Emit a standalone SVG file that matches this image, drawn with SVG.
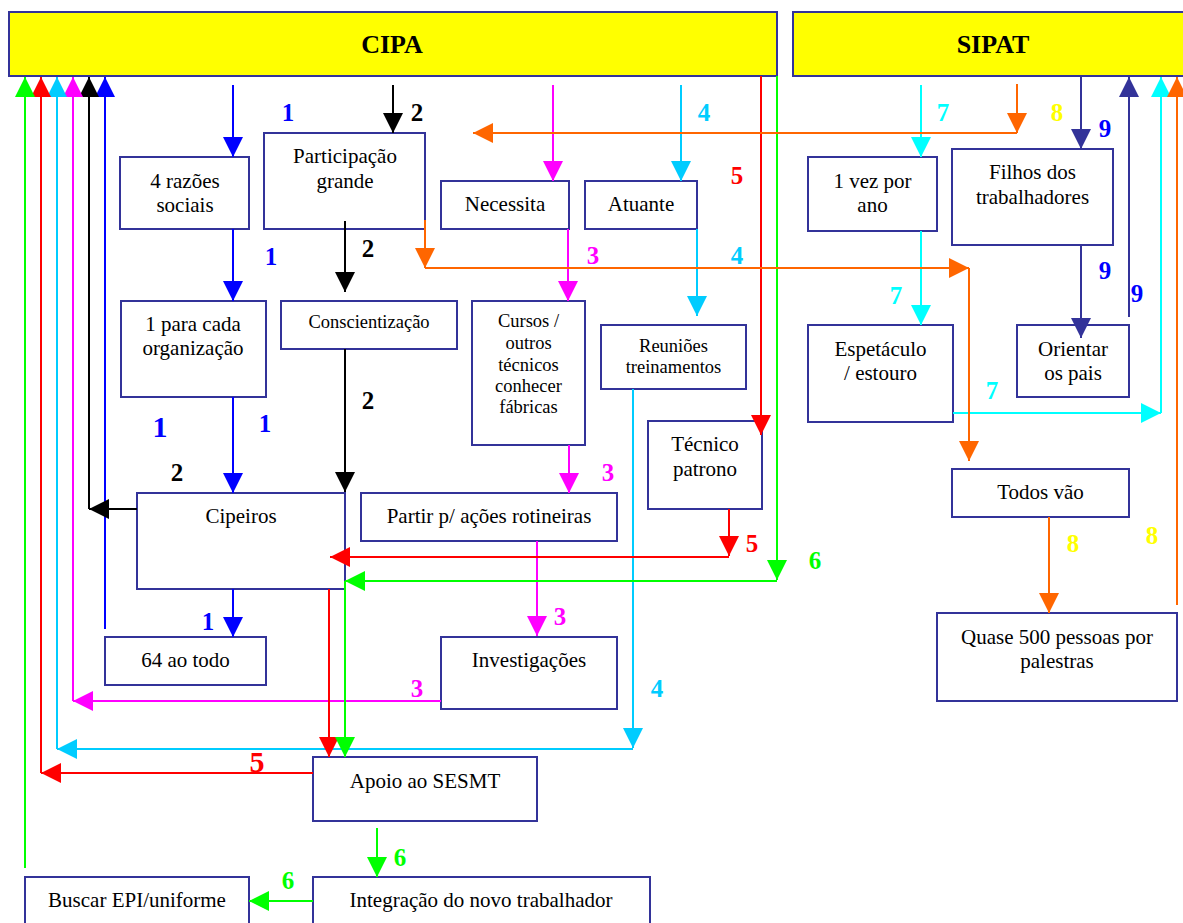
<svg xmlns="http://www.w3.org/2000/svg" width="1183" height="923" viewBox="0 0 1183 923">
  <style>
    .box { fill: #ffffff; stroke: #333399; stroke-width: 2; }
    .hdr { fill: #ffff00; stroke: #333399; stroke-width: 2; }
    text { font-family: 'Liberation Serif', 'DejaVu Serif', serif; }
    .t { font-size: 21px; text-anchor: middle; fill: #000000; }
    .ts { font-size: 18.5px; }
    .h { font-size: 26px; font-weight: bold; }
    .n { font-weight: bold; font-size: 25px; text-anchor: middle; }
    .big { font-size: 30px; }
    .c path { fill: none; stroke-width: 2; }
    .sB { stroke: #0000ff; } .fB { fill: #0000ff; }
    .sK { stroke: #000000; } .fK { fill: #000000; }
    .sM { stroke: #ff00ff; } .fM { fill: #ff00ff; }
    .sC { stroke: #00ccff; } .fC { fill: #00ccff; }
    .sR { stroke: #ff0000; } .fR { fill: #ff0000; }
    .sG { stroke: #00ff00; } .fG { fill: #00ff00; }
    .sO { stroke: #ff6600; } .fO { fill: #ff6600; }
    .sA { stroke: #00ffff; } .fA { fill: #00ffff; }
    .sN { stroke: #333399; } .fN { fill: #333399; }
    .fY { fill: #ffff00; }
  </style>
  <defs>
    <marker id="aB" viewBox="0 0 20 20" refX="20" refY="10" markerWidth="20" markerHeight="20" markerUnits="userSpaceOnUse" orient="auto"><path d="M0,0 L20,10 L0,20 z" fill="#0000ff"/></marker>
    <marker id="aK" viewBox="0 0 20 20" refX="20" refY="10" markerWidth="20" markerHeight="20" markerUnits="userSpaceOnUse" orient="auto"><path d="M0,0 L20,10 L0,20 z" fill="#000000"/></marker>
    <marker id="aM" viewBox="0 0 20 20" refX="20" refY="10" markerWidth="20" markerHeight="20" markerUnits="userSpaceOnUse" orient="auto"><path d="M0,0 L20,10 L0,20 z" fill="#ff00ff"/></marker>
    <marker id="aC" viewBox="0 0 20 20" refX="20" refY="10" markerWidth="20" markerHeight="20" markerUnits="userSpaceOnUse" orient="auto"><path d="M0,0 L20,10 L0,20 z" fill="#00ccff"/></marker>
    <marker id="aR" viewBox="0 0 20 20" refX="20" refY="10" markerWidth="20" markerHeight="20" markerUnits="userSpaceOnUse" orient="auto"><path d="M0,0 L20,10 L0,20 z" fill="#ff0000"/></marker>
    <marker id="aG" viewBox="0 0 20 20" refX="20" refY="10" markerWidth="20" markerHeight="20" markerUnits="userSpaceOnUse" orient="auto"><path d="M0,0 L20,10 L0,20 z" fill="#00ff00"/></marker>
    <marker id="aO" viewBox="0 0 20 20" refX="20" refY="10" markerWidth="20" markerHeight="20" markerUnits="userSpaceOnUse" orient="auto"><path d="M0,0 L20,10 L0,20 z" fill="#ff6600"/></marker>
    <marker id="aA" viewBox="0 0 20 20" refX="20" refY="10" markerWidth="20" markerHeight="20" markerUnits="userSpaceOnUse" orient="auto"><path d="M0,0 L20,10 L0,20 z" fill="#00ffff"/></marker>
    <marker id="aN" viewBox="0 0 20 20" refX="20" refY="10" markerWidth="20" markerHeight="20" markerUnits="userSpaceOnUse" orient="auto"><path d="M0,0 L20,10 L0,20 z" fill="#333399"/></marker>
  </defs>

  <rect width="1183" height="923" fill="#ffffff"/>

  <!-- headers -->
  <g id="cipa"><rect class="hdr" x="9" y="12" width="768" height="64"/><text class="t h" x="392" y="53" font-family="Liberation Serif, serif">CIPA</text></g>
  <g id="sipat"><rect class="hdr" x="793" y="12" width="400" height="64"/><text class="t h" x="993" y="53" font-family="Liberation Serif, serif">SIPAT</text></g>

  <!-- CIPA boxes -->
  <g id="razoes" font-family="Liberation Serif, serif"><rect class="box" x="120" y="157" width="129" height="72"/><text class="t" x="185" y="188">4 razões</text><text class="t" x="185" y="212">sociais</text></g>
  <g id="participacao"><rect class="box" x="264" y="133" width="161" height="96"/><text class="t" x="345" y="163">Participação</text><text class="t" x="345" y="188">grande</text></g>
  <g id="necessita"><rect class="box" x="441" y="181" width="128" height="48"/><text class="t" x="505" y="211">Necessita</text></g>
  <g id="atuante"><rect class="box" x="585" y="181" width="112" height="48"/><text class="t" x="641" y="211">Atuante</text></g>
  <g id="organizacao"><rect class="box" x="121" y="301" width="145" height="96"/><text class="t" x="193" y="331">1 para cada</text><text class="t" x="193" y="355">organização</text></g>
  <g id="conscientizacao"><rect class="box" x="281" y="301" width="176" height="48"/><text class="t ts" x="369" y="328">Conscientização</text></g>
  <g id="cursos"><rect class="box" x="472" y="301" width="113" height="144"/>
    <text class="t ts" x="528.5" y="327">Cursos /</text><text class="t ts" x="528.5" y="349">outros</text><text class="t ts" x="528.5" y="371">técnicos</text><text class="t ts" x="528.5" y="392">conhecer</text><text class="t ts" x="528.5" y="413">fábricas</text></g>
  <g id="reunioes"><rect class="box" x="601" y="325" width="145" height="64"/><text class="t ts" x="673.5" y="352">Reuniões</text><text class="t ts" x="673.5" y="373">treinamentos</text></g>
  <g id="tecnico"><rect class="box" x="648" y="421" width="114" height="88"/><text class="t" x="705" y="451">Técnico</text><text class="t" x="705" y="476">patrono</text></g>
  <g id="cipeiros"><rect class="box" x="137" y="493" width="208" height="96"/><text class="t" x="241" y="523">Cipeiros</text></g>
  <g id="partir"><rect class="box" x="361" y="493" width="256" height="48"/><text class="t" x="489" y="523">Partir p/ ações rotineiras</text></g>
  <g id="sessenta"><rect class="box" x="105" y="637" width="161" height="48"/><text class="t" x="185.5" y="667">64 ao todo</text></g>
  <g id="investigacoes"><rect class="box" x="441" y="637" width="176" height="72"/><text class="t" x="529" y="667">Investigações</text></g>
  <g id="apoio"><rect class="box" x="313" y="757" width="224" height="64"/><text class="t" x="425" y="788">Apoio ao SESMT</text></g>
  <g id="integracao"><rect class="box" x="313" y="877" width="337" height="60"/><text class="t" x="481" y="907">Integração do novo trabalhador</text></g>
  <g id="buscar"><rect class="box" x="25" y="877" width="224" height="60"/><text class="t" x="137" y="907">Buscar EPI/uniforme</text></g>

  <!-- SIPAT boxes -->
  <g id="vez"><rect class="box" x="808" y="157" width="129" height="74"/><text class="t" x="872.5" y="188">1 vez por</text><text class="t" x="872.5" y="212">ano</text></g>
  <g id="filhos"><rect class="box" x="952" y="149" width="161" height="96"/><text class="t" x="1032.5" y="179">Filhos dos</text><text class="t" x="1032.5" y="204">trabalhadores</text></g>
  <g id="espetaculo"><rect class="box" x="808" y="325" width="145" height="97"/><text class="t" x="880.5" y="356">Espetáculo</text><text class="t" x="880.5" y="380">/ estouro</text></g>
  <g id="orientar"><rect class="box" x="1017" y="325" width="112" height="72"/><text class="t" x="1073" y="356">Orientar</text><text class="t" x="1073" y="380">os pais</text></g>
  <g id="todos"><rect class="box" x="952" y="469" width="177" height="48"/><text class="t" x="1040.5" y="499">Todos vão</text></g>
  <g id="quase"><rect class="box" x="937" y="613" width="240" height="88"/><text class="t" x="1057" y="644">Quase 500 pessoas por</text><text class="t" x="1057" y="668">palestras</text></g>

  <!-- connectors -->
  <g id="connectors" class="c">
    <!-- 1 -->
    <path class="sB" d="M233,85 V157" marker-end="url(#aB)"/>
    <path class="sB" d="M233,229 V301" marker-end="url(#aB)"/>
    <path class="sB" d="M233,397 V493" marker-end="url(#aB)"/>
    <path class="sB" d="M233,589 V637" marker-end="url(#aB)"/>
    <path class="sB" d="M105,629 V77" marker-end="url(#aB)"/>
    <!-- 2 -->
    <path class="sK" d="M393,85 V133" marker-end="url(#aK)"/>
    <path class="sK" d="M345,221 V292" marker-end="url(#aK)"/>
    <path class="sK" d="M345,349 V492" marker-end="url(#aK)"/>
    <path class="sK" d="M137,509 H89" marker-end="url(#aK)"/>
    <path class="sK" d="M89,509 V77" marker-end="url(#aK)"/>
    <!-- 3 -->
    <path class="sM" d="M553,85 V181" marker-end="url(#aM)"/>
    <path class="sM" d="M568,229 V301" marker-end="url(#aM)"/>
    <path class="sM" d="M569,445 V493" marker-end="url(#aM)"/>
    <path class="sM" d="M537,541 V636" marker-end="url(#aM)"/>
    <path class="sM" d="M441,701 H73" marker-end="url(#aM)"/>
    <path class="sM" d="M73,701 V77" marker-end="url(#aM)"/>
    <!-- 4 -->
    <path class="sC" d="M681,85 V181" marker-end="url(#aC)"/>
    <path class="sC" d="M697,229 V316" marker-end="url(#aC)"/>
    <path class="sC" d="M633,389 V748" marker-end="url(#aC)"/>
    <path class="sC" d="M633,749 H57" marker-end="url(#aC)"/>
    <path class="sC" d="M57,749 V77" marker-end="url(#aC)"/>
    <!-- 5 -->
    <path class="sR" d="M761,76 V435" marker-end="url(#aR)"/>
    <path class="sR" d="M729,509 V556" marker-end="url(#aR)"/>
    <path class="sR" d="M729,557 H330" marker-end="url(#aR)"/>
    <path class="sR" d="M329,589 V757" marker-end="url(#aR)"/>
    <path class="sR" d="M313,773 H41" marker-end="url(#aR)"/>
    <path class="sR" d="M41,773 V77" marker-end="url(#aR)"/>
    <!-- 6 -->
    <path class="sG" d="M777,76 V580" marker-end="url(#aG)"/>
    <path class="sG" d="M777,581 H345" marker-end="url(#aG)"/>
    <path class="sG" d="M345,581 V757" marker-end="url(#aG)"/>
    <path class="sG" d="M377,828 V877" marker-end="url(#aG)"/>
    <path class="sG" d="M313,901 H249" marker-end="url(#aG)"/>
    <path class="sG" d="M25,868 V77" marker-end="url(#aG)"/>
    <!-- 7 -->
    <path class="sA" d="M921,85 V157" marker-end="url(#aA)"/>
    <path class="sA" d="M921,231 V325" marker-end="url(#aA)"/>
    <path class="sA" d="M953,413 H1161" marker-end="url(#aA)"/>
    <path class="sA" d="M1161,413 V77" marker-end="url(#aA)"/>
    <!-- 8 -->
    <path class="sO" d="M1017,84 V133" marker-end="url(#aO)"/>
    <path class="sO" d="M1017,133 H473" marker-end="url(#aO)"/>
    <path class="sO" d="M425,220 V268" marker-end="url(#aO)"/>
    <path class="sO" d="M425,268 H969" marker-end="url(#aO)"/>
    <path class="sO" d="M969,268 V461" marker-end="url(#aO)"/>
    <path class="sO" d="M1049,517 V613" marker-end="url(#aO)"/>
    <path class="sO" d="M1177,605 V77" marker-end="url(#aO)"/>
    <!-- 9 -->
    <path class="sN" d="M1081,76 V149" marker-end="url(#aN)"/>
    <path class="sN" d="M1081,245 V338" marker-end="url(#aN)"/>
    <path class="sN" d="M1129,317 V77" marker-end="url(#aN)"/>
  </g>

  <!-- step numbers -->
  <g id="labels">
    <text class="n fB" x="288" y="121">1</text>
    <text class="n fB" x="271" y="265">1</text>
    <text class="n fB big" x="160" y="437">1</text>
    <text class="n fB" x="265" y="432">1</text>
    <text class="n fB" x="208" y="630" font-size="34">1</text>
    <text class="n fK" x="417" y="121">2</text>
    <text class="n fK" x="368" y="257">2</text>
    <text class="n fK" x="368" y="409">2</text>
    <text class="n fK" x="177" y="481">2</text>
    <text class="n fM" x="593" y="264">3</text>
    <text class="n fM" x="608" y="481">3</text>
    <text class="n fM" x="560" y="625">3</text>
    <text class="n fM" x="417" y="697">3</text>
    <text class="n fC" x="704" y="121">4</text>
    <text class="n fC" x="737" y="264">4</text>
    <text class="n fC" x="657" y="697">4</text>
    <text class="n fR" x="737" y="184">5</text>
    <text class="n fR" x="752" y="552">5</text>
    <text class="n fR big" x="257" y="772">5</text>
    <text class="n fG" x="815" y="569">6</text>
    <text class="n fG" x="400" y="866">6</text>
    <text class="n fG" x="288" y="889">6</text>
    <text class="n fA" x="943" y="121">7</text>
    <text class="n fA" x="896" y="304">7</text>
    <text class="n fA" x="992" y="399">7</text>
    <text class="n fY" x="1057" y="121">8</text>
    <text class="n fY" x="1073" y="552">8</text>
    <text class="n fY" x="1152" y="544">8</text>
    <text class="n fB" x="1105" y="137">9</text>
    <text class="n fB" x="1105" y="279">9</text>
    <text class="n fB" x="1137" y="302">9</text>
  </g>
</svg>
